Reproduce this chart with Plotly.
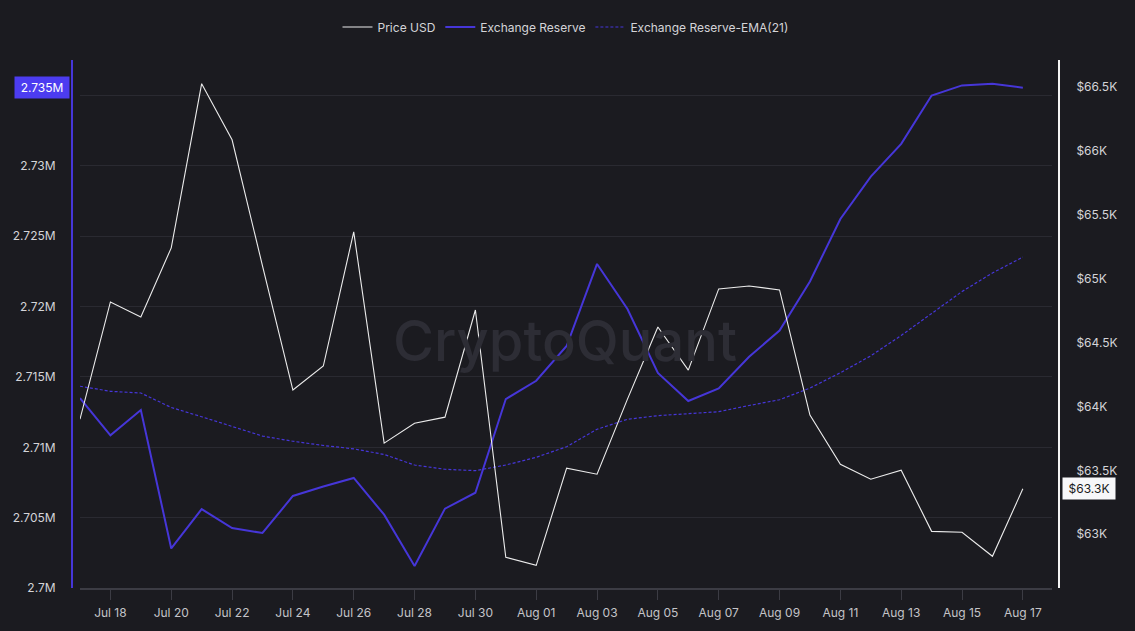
import math
import pandas as pd
import plotly.graph_objects as go

# ---- data ----
dates = pd.date_range("2024-07-17", "2024-08-17", freq="D")

price_usd = [63900, 64817, 64699, 65240, 66524, 66085, 65099, 64128, 64316, 65365,
             63713, 63869, 63916, 64754, 62820, 62757, 63517, 63470, 64057, 64621,
             64284, 64919, 64942, 64911, 63932, 63548, 63431, 63501, 63023, 63016,
             62828, 63356]

exchange_reserve = [2713500, 2710850, 2712650, 2702810, 2705610, 2704260, 2703910, 2706540,
                    2707210, 2707820, 2705210, 2701560, 2705640, 2706770, 2713430, 2714730,
                    2717200, 2723030, 2719830, 2715280, 2713290, 2714190, 2716430, 2718300,
                    2721790, 2726230, 2729240, 2731570, 2735000, 2735720, 2735840, 2735560]

reserve_ema21 = [2714340, 2713980, 2713860, 2712830, 2712170, 2711460, 2710800, 2710430,
                 2710130, 2709890, 2709490, 2708740, 2708440, 2708340, 2708740, 2709290,
                 2710040, 2711280, 2711990, 2712250, 2712370, 2712530, 2712970, 2713380,
                 2714210, 2715300, 2716500, 2717950, 2719510, 2721070, 2722390, 2723520]

reserve_tick_vals = [2700000, 2705000, 2710000, 2715000, 2720000, 2725000, 2730000, 2735000]
# the 2.735M tick label sits under the current-value marker, so it is left blank
reserve_tick_text = ["2.7M", "2.705M", "2.71M", "2.715M", "2.72M", "2.725M", "2.73M", ""]

price_tick_vals = [63000, 63500, 64000, 64500, 65000, 65500, 66000, 66500]
price_tick_text = ["$63K", "$63.5K", "$64K", "$64.5K", "$65K", "$65.5K", "$66K", "$66.5K"]

series_names = ["Price USD", "Exchange Reserve", "Exchange Reserve-EMA(21)"]

# ---- style ----
BG = "#1b1b20"
BLUE = "#4636d8"
BLUE_BOX = "#4c3cf0"
WHITE = "#ececec"
GRID = "#2a2a31"
TXT = "#d4d4d8"
FONT = "Inter, Roboto, sans-serif"

fig = go.Figure()
fig.add_trace(go.Scatter(x=dates, y=price_usd, name=series_names[0], mode="lines",
                         line=dict(color=WHITE, width=1.1), yaxis="y2"))
fig.add_trace(go.Scatter(x=dates, y=exchange_reserve, name=series_names[1], mode="lines",
                         line=dict(color=BLUE, width=2), yaxis="y"))
fig.add_trace(go.Scatter(x=dates, y=reserve_ema21, name=series_names[2], mode="lines",
                         line=dict(color=BLUE, width=1.2, dash="3px,2px"), yaxis="y"))

last_res = exchange_reserve[-1]
last_px = price_usd[-1]
res_label = f"{math.floor(last_res / 1e3) / 1e3:.3f}M"
px_label = f"${math.floor(last_px / 100) / 10:.1f}K"

fig.update_layout(
    width=1135, height=631,
    paper_bgcolor=BG, plot_bgcolor=BG,
    margin=dict(l=72, r=76, t=60, b=43),
    font=dict(family=FONT, size=12, color=TXT),
    showlegend=True,
    legend=dict(orientation="h", x=0.5, xanchor="center", y=1 - 27 / 631, yanchor="middle",
                yref="container", font=dict(size=12, color=TXT), bgcolor="rgba(0,0,0,0)",
                itemwidth=30, traceorder="normal"),
    xaxis=dict(
        domain=[8 / 987, 980 / 987],
        type="date",
        range=["2024-07-17", "2024-08-17 23:00"],
        tick0="2024-07-18", dtick=2 * 86400000, tickformat="%b %d",
        showgrid=False, zeroline=False,
        showline=True, linecolor="#3c3c44", linewidth=1.5,
        ticks="outside", ticklen=10, tickcolor="#3c3c44", tickwidth=1,
        tickfont=dict(size=12, color="#c4c4c8"), ticklabelstandoff=3,
        anchor="y",
    ),
    yaxis=dict(
        range=[2700000, 2737527],
        tickvals=reserve_tick_vals, ticktext=reserve_tick_text,
        showgrid=True, gridcolor=GRID, gridwidth=1, zeroline=False,
        showline=True, linecolor=BLUE, linewidth=2,
        anchor="free", position=0, side="left",
        ticks="", ticklabelstandoff=13,
        tickfont=dict(size=12, color=TXT),
    ),
    yaxis2=dict(
        range=[62580, 66709],
        tickvals=price_tick_vals, ticktext=price_tick_text,
        showgrid=False, zeroline=False,
        showline=True, linecolor="#f4f4f4", linewidth=2,
        anchor="free", position=1, side="right", overlaying="y",
        ticks="", ticklabelstandoff=14,
        tickfont=dict(size=12, color=TXT),
    ),
    annotations=[
        dict(text="CryptoQuant", xref="paper", yref="paper", x=0.499, y=0.468,
             showarrow=False,
             font=dict(family="Inter, sans-serif", size=56, color="#2d2d35", weight=500),
             xanchor="center", yanchor="middle"),
        dict(text=res_label, xref="paper", yref="y", x=(41.5 - 72) / 987, y=last_res,
             showarrow=False, bgcolor=BLUE_BOX, font=dict(color="#ffffff", size=12),
             borderpad=3, width=48, xanchor="center", yanchor="middle"),
        dict(text=px_label, xref="paper", yref="y2", x=(1088.5 - 72) / 987, y=last_px,
             showarrow=False, bgcolor="#f7f7f9", font=dict(color="#1b1b20", size=12),
             borderpad=3, width=46, xanchor="center", yanchor="middle"),
    ],
)

fig.write_html(
    "out.html",
    config={"displayModeBar": False},
    post_script="document.body.style.margin='0';document.body.style.background='#1b1b20';",
)
